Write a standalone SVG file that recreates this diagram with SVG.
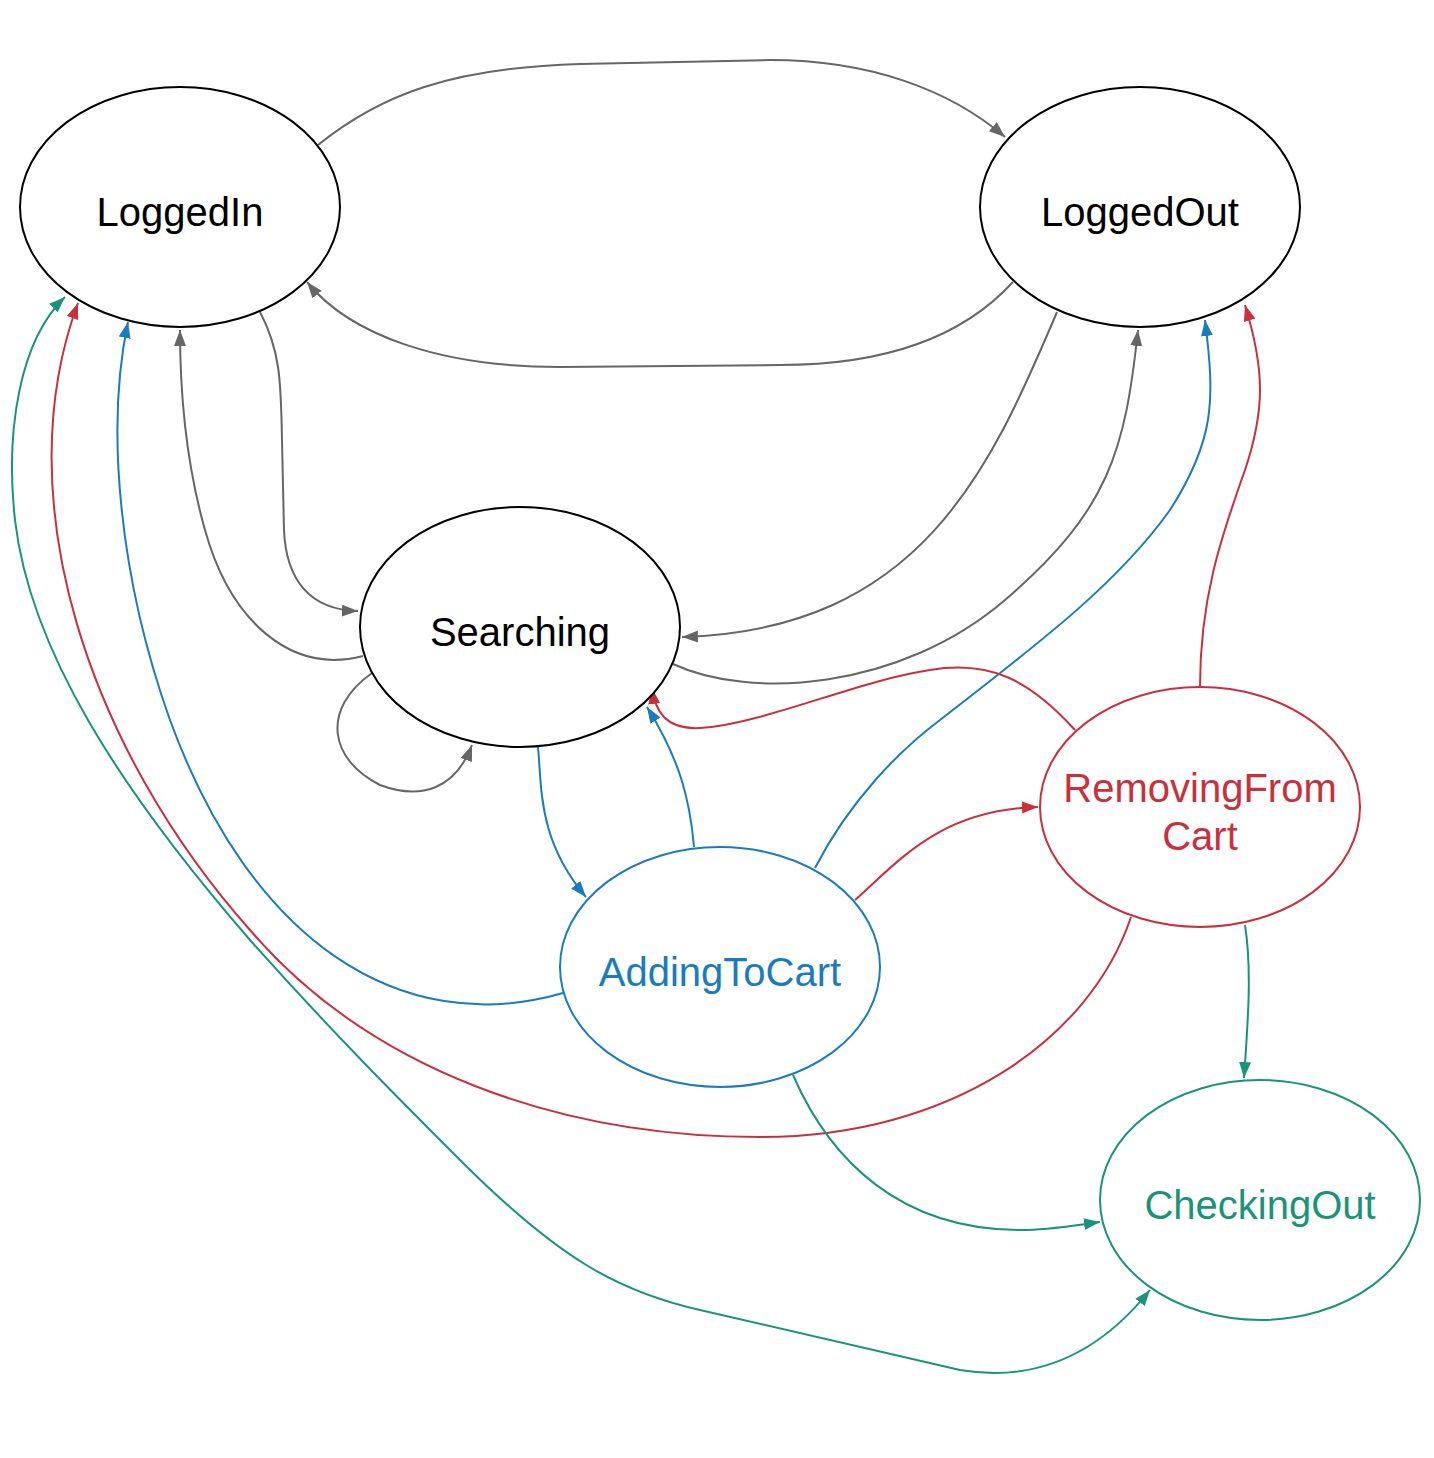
<svg xmlns="http://www.w3.org/2000/svg" width="1434" height="1458" viewBox="0 0 1434 1458">
<style>
.n{fill:#fff;stroke-width:2}
.t{font-family:"Liberation Sans",Arial,sans-serif;font-size:40px;text-anchor:middle}
.e{fill:none;stroke-width:2}
.gr{stroke:#666}
.bl{stroke:#1a7bbd}
.rd{stroke:#c8303c}
.gn{stroke:#1a9479}
</style>
<defs>
<marker id="ag" markerUnits="userSpaceOnUse" markerWidth="18" markerHeight="14" refX="16" refY="6" orient="auto"><path d="M0,0 L16,6 L0,12 Z" fill="#666"/></marker>
<marker id="ab" markerUnits="userSpaceOnUse" markerWidth="18" markerHeight="14" refX="16" refY="6" orient="auto"><path d="M0,0 L16,6 L0,12 Z" fill="#1a7bbd"/></marker>
<marker id="ar" markerUnits="userSpaceOnUse" markerWidth="18" markerHeight="14" refX="16" refY="6" orient="auto"><path d="M0,0 L16,6 L0,12 Z" fill="#c8303c"/></marker>
<marker id="an" markerUnits="userSpaceOnUse" markerWidth="18" markerHeight="14" refX="16" refY="6" orient="auto"><path d="M0,0 L16,6 L0,12 Z" fill="#1a9479"/></marker>
<marker id="ans" markerUnits="userSpaceOnUse" markerWidth="18" markerHeight="14" refX="16" refY="6" orient="auto-start-reverse"><path d="M0,0 L16,6 L0,12 Z" fill="#1a9479"/></marker>
</defs>
<rect width="1434" height="1458" fill="#fff"/>
<g id="connectors">
<path class="e gr" marker-end="url(#ag)" d="M318,145 C380,95 450,68 580,64 L770,60 C870,60 950,90 1005,137"/>
<path class="e gr" marker-end="url(#ag)" d="M1013,282 C960,340 880,365 780,365 L560,367 C440,367 350,335 307,282"/>
<path class="e gr" marker-end="url(#ag)" d="M260,312 C280,350 281,380 282,440 L284,530 C286,580 310,610 358,611"/>
<path class="e gr" marker-end="url(#ag)" d="M363,656 C290,675 230,620 205,530 C188,470 180,400 180,330"/>
<path class="e gr" marker-end="url(#ag)" d="M1057,312 C990,470 920,630 682,637"/>
<path class="e gr" marker-end="url(#ag)" d="M673,664 C750,700 900,690 1005,600 C1110,510 1125,450 1138,330"/>
<path class="e gr" marker-end="url(#ag)" d="M372,673 C320,710 330,760 380,785 C420,800 455,790 472,745"/>
<path class="e bl" marker-end="url(#ab)" d="M538,747 C542,790 538,840 586,897"/>
<path class="e bl" marker-end="url(#ab)" d="M694,847 C690,800 680,760 647,707"/>
<path class="e bl" marker-end="url(#ab)" d="M563,993 C400,1040 250,940 170,720 C120,580 105,430 128,322"/>
<path class="e bl" marker-end="url(#ab)" d="M815,868 C850,800 900,750 940,720 C1050,635 1120,580 1170,510 C1215,440 1215,400 1205,320"/>
<path class="e rd" marker-end="url(#ar)" d="M1075,730 C1030,680 990,660 930,670 C860,680 760,725 700,728 C665,730 655,710 652,688"/>
<path class="e rd" marker-end="url(#ar)" d="M855,900 C900,860 940,810 1038,807"/>
<path class="e rd" marker-end="url(#ar)" d="M1131,917 C1090,1040 950,1137 760,1137 C560,1137 370,1070 250,930 C90,750 5,500 78,303"/>
<path class="e rd" marker-end="url(#ar)" d="M1200,687 C1200,600 1220,540 1245,470 C1265,410 1265,370 1245,305"/>
<path class="e gn" marker-end="url(#an)" d="M1245,925 C1252,970 1248,1020 1244,1078"/>
<path class="e gn" marker-end="url(#an)" d="M793,1075 C830,1160 900,1230 1020,1230 C1050,1230 1070,1226 1100,1222"/>
<path class="e gn" marker-start="url(#ans)" marker-end="url(#an)" d="M65,297 C20,340 5,430 15,520 C30,650 120,790 250,940 C330,1030 400,1100 460,1160 C560,1260 620,1292 700,1310 L960,1370 C1050,1385 1110,1340 1150,1290"/>
</g>
<g id="LoggedIn"><ellipse class="n" cx="180" cy="207" rx="160" ry="120" stroke="#000"/><text class="t" x="180" y="226" fill="#000">LoggedIn</text></g>
<g id="LoggedOut"><ellipse class="n" cx="1140" cy="207" rx="160" ry="120" stroke="#000"/><text class="t" x="1140" y="226" fill="#000">LoggedOut</text></g>
<g id="Searching"><ellipse class="n" cx="520" cy="627" rx="160" ry="120" stroke="#000"/><text class="t" x="520" y="646" fill="#000">Searching</text></g>
<g id="AddingToCart"><ellipse class="n" cx="720" cy="967" rx="160" ry="120" stroke="#1a7bbd"/><text class="t" x="720" y="986" fill="#1a7bbd">AddingToCart</text></g>
<g id="RemovingFromCart"><ellipse class="n" cx="1200" cy="807" rx="160" ry="120" stroke="#c8303c"/><text class="t" x="1200" y="802" fill="#c8303c">RemovingFrom</text><text class="t" x="1200" y="850" fill="#c8303c">Cart</text></g>
<g id="CheckingOut"><ellipse class="n" cx="1260" cy="1200" rx="160" ry="120" stroke="#1a9479"/><text class="t" x="1260" y="1219" fill="#1a9479">CheckingOut</text></g>
</svg>
